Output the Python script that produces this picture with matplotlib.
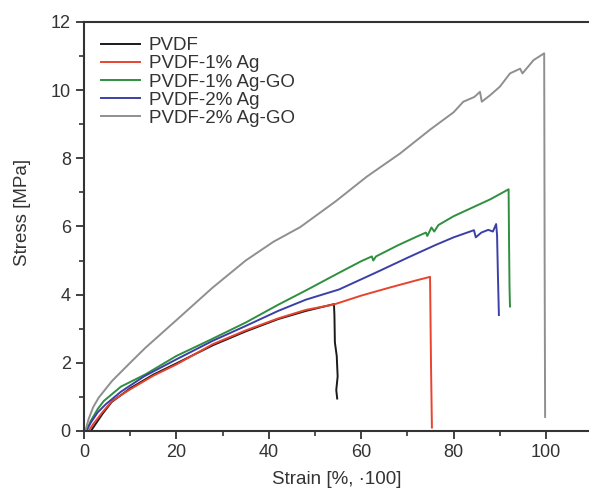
import numpy as np
import matplotlib
matplotlib.use('Agg')
import matplotlib.pyplot as plt
from matplotlib.ticker import MultipleLocator

plt.rcParams['font.family'] = ['Liberation Sans', 'DejaVu Sans']

# ── Data ──────────────────────────────────────────────────────────────────
labels = ['PVDF', 'PVDF-1% Ag', 'PVDF-1% Ag-GO', 'PVDF-2% Ag', 'PVDF-2% Ag-GO']
colors = ['#1a1a1a', '#e8432f', '#2f8f3f', '#3b40a8', '#8f8f8f']

pvdf_x = [1.5, 2.5, 4, 6, 10, 15, 20, 28, 35, 42, 48, 54.1, 54.2, 54.3, 54.7, 54.9, 54.6, 54.8]
pvdf_y = [0.0, 0.2, 0.5, 0.85, 1.25, 1.65, 1.98, 2.52, 2.92, 3.28, 3.52, 3.72, 3.4, 2.6, 2.2, 1.6, 1.2, 0.95]

ag1_x = [1.0, 2, 4, 6.1, 10, 15, 20, 27.8, 35, 42, 48, 54.1, 60, 66, 72, 74.9, 75.1, 75.3]
ag1_y = [0.0, 0.2, 0.55, 0.88, 1.22, 1.62, 1.95, 2.54, 2.95, 3.3, 3.55, 3.71, 3.97, 4.2, 4.42, 4.52, 2.0, 0.1]

ago1_x = [0.5, 1.5, 3, 4.3, 8, 13.3, 20, 27, 35, 42, 48, 55.2, 60, 62.3, 62.6, 63.2, 68, 72, 74.0, 74.3, 75.2,
          75.8, 76.7, 80, 84, 88, 91.9, 92.0, 92.1, 92.2]
ago1_y = [0.0, 0.3, 0.65, 0.88, 1.3, 1.66, 2.2, 2.65, 3.18, 3.7, 4.12, 4.64, 4.98, 5.12, 5.0, 5.12, 5.45, 5.7, 5.82,
          5.72, 5.97, 5.85, 6.04, 6.3, 6.55, 6.8, 7.09, 5.5, 4.2, 3.65]

ag2_x = [0.5, 1.5, 3, 4.7, 8, 13, 20, 27.8, 35, 42, 48, 55.2, 63.4, 70, 76, 80, 84.4, 84.8, 86, 87.5, 88.5, 89.2,
         89.4, 89.6, 89.8]
ag2_y = [0.0, 0.25, 0.55, 0.78, 1.15, 1.6, 2.1, 2.64, 3.08, 3.52, 3.85, 4.15, 4.66, 5.08, 5.45, 5.68, 5.89, 5.68,
         5.82, 5.9, 5.85, 6.07, 5.75, 4.5, 3.4]

ago2_x = [0.3, 1.0, 2, 3.2, 6.1, 10, 13.3, 20, 27.8, 35, 41, 46.8, 54.5, 61.2, 68.4, 75, 80, 82.1, 84.5, 85.7, 86.1,
          87.9, 90, 92.2, 94.4, 94.9, 97.3, 99.6, 99.7, 99.8]
ago2_y = [0.0, 0.35, 0.7, 0.98, 1.47, 2.0, 2.44, 3.25, 4.2, 5.0, 5.55, 5.98, 6.74, 7.46, 8.14, 8.85, 9.35, 9.66,
          9.8, 9.95, 9.66, 9.85, 10.1, 10.49, 10.63, 10.49, 10.88, 11.08, 5.0, 0.41]

series = [(pvdf_x, pvdf_y), (ag1_x, ag1_y), (ago1_x, ago1_y), (ag2_x, ag2_y), (ago2_x, ago2_y)]

# ── Plot ──────────────────────────────────────────────────────────────────
fig = plt.figure(figsize=(5.89, 4.88), dpi=100)
ax = fig.add_axes([0.1426, 0.117, 0.8574, 0.838])

for (x, y), lab, c in zip(series, labels, colors):
    ax.plot(x, y, color=c, lw=1.4, label=lab)

txt = '#333333'
ax.set_xlim(0, 109.3)
ax.set_ylim(0, 12)
ax.xaxis.set_major_locator(MultipleLocator(20))
ax.xaxis.set_minor_locator(MultipleLocator(10))
ax.yaxis.set_major_locator(MultipleLocator(2))
ax.yaxis.set_minor_locator(MultipleLocator(1))
ax.tick_params(which='major', direction='out', length=6, width=1.3, colors=txt, labelsize=13)
ax.tick_params(which='minor', direction='out', length=3.5, width=1.2, colors=txt)
ax.spines['right'].set_visible(False)
for s in ['left', 'bottom', 'top']:
    ax.spines[s].set_linewidth(1.5)
    ax.spines[s].set_color(txt)

ax.set_xlabel('Strain [%, \u00b7100]', fontsize=13.5, color=txt, labelpad=7)
ax.set_ylabel('Stress [MPa]', fontsize=13.5, color=txt)
ax.yaxis.set_label_coords(-0.104, 0.533)

leg = ax.legend(loc='upper left', frameon=False, fontsize=13.5, handlelength=2.1,
                handletextpad=0.45, labelspacing=0.05, borderaxespad=0.2,
                bbox_to_anchor=(0.011, 0.99))
for t in leg.get_texts():
    t.set_color(txt)

plt.savefig('out.png', dpi=100)
